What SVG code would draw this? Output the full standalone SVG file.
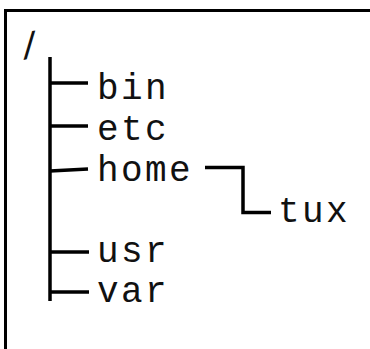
<svg xmlns="http://www.w3.org/2000/svg" width="370" height="349" viewBox="0 0 370 349">
<style>
.t{font-family:"Courier New","Liberation Mono",monospace;font-size:36px;letter-spacing:2.4px;fill:#111}
.c{stroke:#000;stroke-width:3.5;fill:none;stroke-linecap:butt}
.f{stroke:#000;stroke-width:3;fill:none}
</style>
<rect width="370" height="349" fill="#fff"/>
<g id="frame"><path class="f" d="M5.5 349 V10.5 H370"/></g>
<g id="connectors">
<line class="c" x1="50" y1="57" x2="50" y2="301"/>
<line class="c" x1="50" y1="83" x2="88" y2="83"/>
<line class="c" x1="50" y1="126" x2="88" y2="126"/>
<line class="c" x1="50" y1="171" x2="88" y2="169"/>
<line class="c" x1="50" y1="252" x2="89" y2="252"/>
<line class="c" x1="50" y1="292" x2="89" y2="292"/>
<path class="c" d="M205 167.5 H243 V212.5 H271"/>
</g>
<g id="root"><text class="t" x="19" y="58" transform="rotate(-12 30 47)">/</text></g>
<g id="bin"><text class="t" x="97" y="99">bin</text></g>
<g id="etc"><text class="t" x="97" y="140">etc</text></g>
<g id="home"><text class="t" x="97" y="181">home</text></g>
<g id="tux"><text class="t" x="278" y="222">tux</text></g>
<g id="usr"><text class="t" x="97" y="262">usr</text></g>
<g id="var"><text class="t" x="97" y="302">var</text></g>
</svg>
